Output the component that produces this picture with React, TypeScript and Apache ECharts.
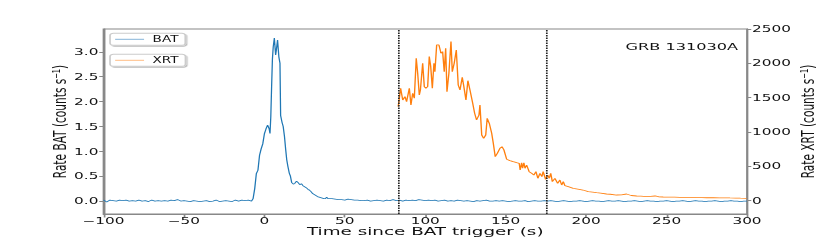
import React, { useEffect, useRef } from "react";
import * as echarts from "echarts";

// ---- data ----
const batPreStart = -100;
const batPreStep = 2;
const batPreRates = [
  0.02, -0.02, 0.02, 0.01, 0.0, 0.02, 0.01, 0.02, 0.0, 0.01, 0.0, 0.02, 0.0, 0.01, -0.01, 0.02,
  0.0, 0.01, 0.0, 0.01, 0.0, 0.02, 0.01, 0.03, 0.0, 0.01, 0.0, -0.01, 0.01, 0.0, -0.01, 0.0,
  0.01, -0.01, 0.0, 0.02, -0.01, 0.0, 0.01, 0.0, -0.01, 0.02, 0.0, 0.02, 0.01, 0.02, 0.0,
];
const batBurstTimes = [
  -7, -6, -5, -4, -3, -2, -1, 0, 1, 2, 3, 3.5, 4, 4.5, 5, 5.5, 6.2, 7, 7.5, 8.2, 9, 9.7, 10.1,
  11, 11.7, 12.5, 13.2, 13.9, 14.6, 15.5, 16.2, 17, 18, 19, 20, 21, 22, 23, 24, 25, 26, 27, 28,
  29, 30, 31, 32, 33, 34, 35, 36, 37, 38, 38.7, 39.5, 40,
];
const batBurstRates = [
  0.05, 0.25, 0.55, 0.62, 0.92, 1.05, 1.15, 1.35, 1.45, 1.53, 1.45, 1.36, 1.7, 2.3, 2.85, 3.1,
  3.28, 2.94, 3.05, 3.24, 2.9, 2.77, 1.72, 1.58, 1.5, 1.3, 1.05, 0.83, 0.7, 0.56, 0.5, 0.37, 0.34,
  0.36, 0.4, 0.37, 0.33, 0.35, 0.31, 0.29, 0.27, 0.24, 0.22, 0.19, 0.15, 0.13, 0.11, 0.09, 0.08,
  0.07, 0.06, 0.05, 0.05, 0.08, 0.05, 0.05,
];
const batPostStart = 42;
const batPostStep = 2;
const batPostRates = [
  0.05, 0.04, 0.03, 0.03, 0.02, 0.04, 0.03, 0.02, 0.02, 0.01,
  0.01, 0.02, 0.0, 0.01, 0.02, 0.01, 0.0, 0.02, 0.01, 0.03, 0.01, 0.02, 0.0, 0.02, 0.01, 0.02, 0.01, 0.03, 0.02, 0.01,
  0.02, 0.01, 0.02, 0.0, 0.01, 0.02, 0.0, 0.01, 0.0, 0.02, 0.01, 0.0, 0.01, 0.0, -0.01, 0.01, 0.0, 0.01, 0.02, 0.0,
  0.0, 0.01, 0.0, 0.01, 0.0, -0.01, 0.0, 0.01, 0.0, 0.0, 0.01, -0.01, 0.0, 0.01, 0.0, 0.0, 0.01, 0.0, 0.01, 0.0,
  -0.01, 0.0, 0.01, 0.0, -0.01, 0.0, 0.0, 0.01, 0.0, -0.01, 0.0, 0.01, 0.0, 0.0, -0.01, 0.0, 0.01, 0.0, 0.0, 0.01,
  0.0, -0.01, 0.0, 0.0, 0.01, 0.0, -0.01, 0.0, 0.01, 0.0, 0.0, -0.01, 0.0, 0.0, 0.01, 0.0, -0.01, 0.0, 0.0, 0.01,
  0.0, -0.01, 0.0, 0.01, 0.0, 0.0, -0.01, 0.0, 0.0, 0.01, 0.0, -0.01, 0.0, 0.0, 0.01, 0.0, 0.0, -0.01, 0.0, 0.0,
];

const xrtTimes = [
  83.2, 84.7, 86, 87.4, 88.4, 90.1, 91.1, 92.2, 93.2, 94.4, 95.3, 96.3, 97.0, 98.4, 99.4, 100.4,
  101.5, 102.5, 103.4, 104.4, 105.4, 106, 107.1, 108.5, 109.8, 110.8, 111.8, 112.7, 113.5, 114.7,
  116, 116.8, 118, 119.3, 120.5, 121.6, 123, 124, 125.3, 126.5, 127.8, 129.5, 130.7, 131.9, 133.4,
  134, 135.1, 136.3, 137.6, 138.5, 139.8, 141.3, 142.3, 143.5, 144.8, 146.4, 147.7, 148.9, 150.6,
  152.6, 154.7, 156.8, 158.4, 159.0, 159.9, 160.5, 161.3, 162, 163, 164.6, 166.1, 167.5, 168.8,
  170, 171.3, 172.5, 173.3, 174.8, 176.1, 177.1, 178, 179, 180.6, 182.3, 183.7, 184.8, 185.8,
  186.8, 188.9, 192, 195.7, 198, 201.3, 204, 206.5, 209, 212.7, 215, 218.9, 222, 225.1, 228,
  231.4, 234, 237.6, 240, 242.8, 245, 247.9, 252, 255, 258.3, 262, 265, 268.7, 272, 275, 279.1,
  283, 286, 289.4, 293, 296, 299.7,
];
const xrtRates = [
  1367, 1635, 1464, 1513, 1440, 1635, 1391, 1562, 1489, 2073, 1854, 1537, 1610, 2000, 1659, 1635,
  1659, 2097, 1951, 1635, 2000, 1878, 2267, 2267, 2146, 2170, 1878, 2219, 1586, 1854,
  2316, 1878, 2000, 2194, 1683, 1610, 1796, 1659, 1464, 1746, 1610, 1416, 1270, 1172, 1245,
  1391, 953, 905, 953, 1197, 1124, 978, 832, 637, 686, 759, 783, 735, 599,
  578, 563, 549, 540, 442, 549, 467, 549, 467, 515, 418, 394, 369, 418,
  321, 394, 345, 418, 306, 369, 321, 394, 272, 321, 248, 296, 223, 272,
  213, 199, 175, 161, 150, 126, 120, 111, 104, 92, 88, 77, 80, 92, 70,
  63, 60, 53, 58, 63, 52, 48, 46, 47, 44, 42, 43, 38, 39, 37, 38,
  36, 35, 34, 33, 31, 29,
];

const xTicks = [-100, -50, 0, 50, 100, 150, 200, 250, 300];
const batTicks = [0, 0.5, 1.0, 1.5, 2.0, 2.5, 3.0];
const xrtTicks = [0, 500, 1000, 1500, 2000, 2500];
const triggerWindow = [83.2, 174.8];

// ---- layout (the reference figure is stretched horizontally) ----
const W = 488;
const H = 245;
const SX = 830 / W;
const FONT = "DejaVu Sans";
const AXIS_COLOR = "#888";
const TEXT_COLOR = "#111";
const BAT_COLOR = "#1f77b4";
const XRT_COLOR = "#ff7f0e";

function buildBat(): [number, number][] {
  const out: [number, number][] = [];
  batPreRates.forEach((v, i) => out.push([batPreStart + i * batPreStep, v]));
  batBurstTimes.forEach((t, i) => out.push([t, batBurstRates[i]]));
  batPostRates.forEach((v, i) => out.push([batPostStart + i * batPostStep, v]));
  return out;
}

export default function App() {
  const ref = useRef<HTMLDivElement>(null);
  useEffect(() => {
    if (!ref.current) return;
    const chart = echarts.init(ref.current, undefined, { renderer: "svg" });
    const minus = (s: string) => s.replace("-", "\u2212");
    const legendBase = {
      left: 64.7,
      orient: "vertical" as const,
      padding: [2, 4, 2, 3],
      itemWidth: 17,
      itemHeight: 1,
      icon: "rect",
      backgroundColor: "#fff",
      borderColor: "#ccc",
      borderWidth: 1,
      borderRadius: 2,
      shadowColor: "rgba(0,0,0,0.25)",
      shadowOffsetX: 0.8,
      shadowOffsetY: 1,
      shadowBlur: 0,
      selectedMode: false,
      textStyle: { fontSize: 8, color: TEXT_COLOR, fontFamily: FONT },
    };
    chart.setOption({
      animation: false,
      grid: {
        left: 60.85,
        right: W - 439.2,
        top: 29,
        bottom: H - 214,
        containLabel: false,
        outerBoundsMode: "none",
        show: true,
        borderColor: AXIS_COLOR,
        borderWidth: 1,
        backgroundColor: "transparent",
      },
      legend: [
        { ...legendBase, top: 33.3, data: [{ name: "BAT", itemStyle: { color: "#86b4d8" } }] },
        { ...legendBase, top: 54.3, data: [{ name: "XRT", itemStyle: { color: "#ffbd85" } }] },
      ],
      graphic: [
        {
          type: "text",
          right: W - 434,
          top: 41.5,
          style: { text: "GRB 131030A", font: `9.5px "${FONT}"`, fill: TEXT_COLOR },
        },
      ],
      xAxis: {
        type: "value",
        min: xTicks[0],
        max: xTicks[xTicks.length - 1],
        interval: 50,
        axisLine: { show: true, onZero: false, lineStyle: { color: AXIS_COLOR, width: 1 } },
        axisTick: { show: true, length: 3.5, lineStyle: { color: AXIS_COLOR } },
        axisLabel: {
          margin: 2,
          fontSize: 9,
          lineHeight: 9,
          fontFamily: FONT,
          color: TEXT_COLOR,
          formatter: (v: number) => minus(String(v)),
        },
        splitLine: { show: false },
        name: "Time since BAT trigger (s)",
        nameLocation: "middle",
        nameGap: 12,
        nameMoveOverlap: false,
        nameTextStyle: { fontSize: 10.8, lineHeight: 10.8, fontFamily: FONT, color: TEXT_COLOR },
      },
      yAxis: [
        {
          type: "value",
          min: -0.26,
          max: 3.46,
          position: "left",
          axisLine: { show: true, onZero: false, lineStyle: { color: AXIS_COLOR, width: 1 } },
          axisTick: { show: true, length: 2.5, customValues: batTicks, lineStyle: { color: AXIS_COLOR } },
          axisLabel: {
            margin: 3,
            fontSize: 9,
            fontFamily: FONT,
            color: TEXT_COLOR,
            customValues: batTicks,
            formatter: (v: number) => v.toFixed(1),
          },
          splitLine: { show: false },
          name: "Rate BAT (counts s\u207B\u00B9)",
          nameLocation: "middle",
          nameRotate: 90,
          nameGap: 20.5,
          nameMoveOverlap: false,
          nameTextStyle: { fontSize: 10.6, fontFamily: FONT, color: TEXT_COLOR },
        },
        {
          type: "value",
          min: -200,
          max: 2500,
          position: "right",
          axisLine: { show: true, onZero: false, lineStyle: { color: AXIS_COLOR, width: 1 } },
          axisTick: { show: true, length: 2.5, customValues: xrtTicks, lineStyle: { color: AXIS_COLOR } },
          axisLabel: {
            margin: 3,
            fontSize: 9,
            fontFamily: FONT,
            color: TEXT_COLOR,
            customValues: xrtTicks,
            formatter: (v: number) => String(v),
          },
          splitLine: { show: false },
          name: "Rate XRT (counts s\u207B\u00B9)",
          nameLocation: "middle",
          nameRotate: 90,
          nameGap: 30,
          nameMoveOverlap: false,
          nameTextStyle: { fontSize: 10.6, fontFamily: FONT, color: TEXT_COLOR },
        },
      ],
      series: [
        {
          name: "BAT",
          type: "line",
          yAxisIndex: 0,
          data: buildBat(),
          symbol: "none",
          lineStyle: { color: BAT_COLOR, width: 0.75 },
          itemStyle: { color: BAT_COLOR },
          z: 3,
          markLine: {
            silent: true,
            symbol: ["none", "none"],
            label: { show: false },
            lineStyle: { color: "#222", type: [1.5, 1], width: 1 },
            data: triggerWindow.map((t) => ({ xAxis: t })),
          },
        },
        {
          name: "XRT",
          type: "line",
          yAxisIndex: 1,
          data: xrtTimes.map((t, i) => [t, xrtRates[i]]),
          symbol: "none",
          lineStyle: { color: XRT_COLOR, width: 0.8 },
          itemStyle: { color: XRT_COLOR },
          z: 2,
        },
      ],
    });
    return () => chart.dispose();
  }, []);
  return (
    <div
      ref={ref}
      style={{
        position: "absolute",
        left: 0,
        top: 0,
        width: W,
        height: H,
        transform: `scaleX(${SX})`,
        transformOrigin: "0 0",
        background: "#fff",
      }}
    />
  );
}
